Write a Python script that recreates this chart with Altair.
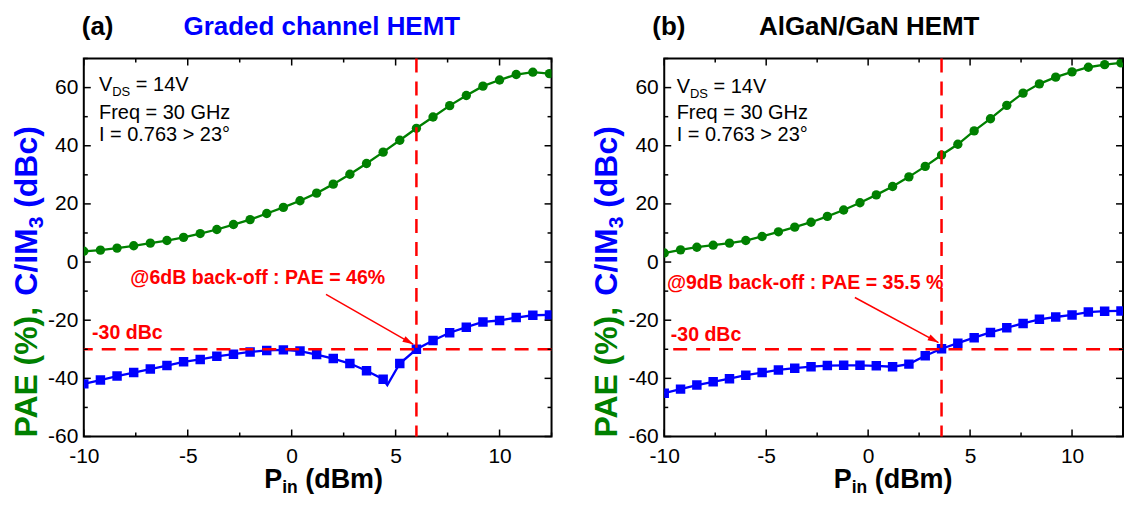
import math
import altair as alt
import pandas as pd

FONT = "Liberation Sans"
GREEN = "#008000"
BLUE = "#0000ff"
RED = "#ff0000"

W_A, W_B, H = 469, 460, 379
X_DOM = [-10, 12.5]
Y_DOM = [-60, 70]
X_TICKS = [-10, -5, 0, 5, 10]
X_MINOR = [-7.5, -2.5, 2.5, 7.5, 12.5]
Y_TICKS = [-60, -40, -20, 0, 20, 40, 60]
Y_MINOR = [-50, -30, -10, 10, 30, 50, 70]

# Input power (dBm)
pin = [-10.0, -9.2, -8.4, -7.6, -6.8, -6.0, -5.2, -4.4, -3.6, -2.8, -2.0, -1.2, -0.4, 0.4,
       1.2, 2.0, 2.8, 3.6, 4.4, 5.2, 6.0, 6.8, 7.6, 8.4, 9.2, 10.0, 10.8, 11.6, 12.4]

# (a) Graded channel HEMT
pae_a = [3.7, 4.1, 4.8, 5.6, 6.5, 7.4, 8.5, 9.8, 11.2, 12.9, 14.6, 16.7, 18.8, 21.1,
         23.7, 26.8, 30.2, 33.9, 37.8, 41.9, 46.0, 49.9, 53.8, 57.3, 60.5, 62.6, 64.5, 65.3, 64.8]
im3_a = [-41.9, -40.6, -39.2, -38.0, -36.8, -35.6, -34.3, -33.5, -32.4, -31.7, -30.9, -30.4,
         -30.2, -30.6, -31.8, -33.2, -34.9, -37.4, -40.3, -34.9, -30.0, -27.0, -24.3, -22.4,
         -20.6, -20.1, -19.1, -18.3, -18.2]
im3_a_dip_x = 4.6      # unmarked point of the line at the notch
im3_a_dip_y = -42.3

# (b) AlGaN/GaN HEMT
pae_b = [3.1, 4.2, 5.1, 5.8, 6.5, 7.4, 8.8, 10.4, 12.0, 13.7, 15.7, 17.9, 20.4, 23.1,
         26.0, 29.3, 32.9, 36.8, 40.5, 45.1, 49.3, 53.9, 58.1, 61.3, 63.6, 65.4, 67.0, 67.9, 68.5]
im3_b = [-45.1, -43.7, -42.3, -41.2, -40.1, -38.9, -38.0, -37.1, -36.5, -36.0, -35.6, -35.5,
         -35.5, -35.7, -36.0, -35.1, -32.2, -29.8, -27.9, -26.0, -24.2, -22.6, -21.1, -19.7,
         -18.9, -18.2, -17.2, -16.9, -16.8]

# annotations (data coordinates)
backoff_a = 6.0
backoff_b = 3.6
limit_dbc = -30
info_lines = ["Freq = 30 GHz", "I = 0.763 > 23°"]


def xenc(field="x"):
    return alt.X(f"{field}:Q",
                 scale=alt.Scale(domain=X_DOM, nice=False, zero=False),
                 axis=alt.Axis(values=X_TICKS, labelExpr="'' + datum.value", ticks=False,
                               tickSize=0, domain=False, grid=False, title=None,
                               labelFlush=False, labelPadding=9, labelFontSize=21,
                               labelFont=FONT, labelColor="black"))


def yenc(field="y"):
    return alt.Y(f"{field}:Q",
                 scale=alt.Scale(domain=Y_DOM, nice=False, zero=False),
                 axis=alt.Axis(values=Y_TICKS, labelExpr="'' + datum.value", ticks=False,
                               tickSize=0, domain=False, grid=False, title=None,
                               labelFlush=False, labelPadding=6, labelFontSize=21,
                               labelFont=FONT, labelColor="black"))


def dtext(x, y, s, size, color, weight="normal", dx=0, dy=0):
    df = pd.DataFrame({"x": [x], "y": [y], "t": [s]})
    return alt.Chart(df).mark_text(align="left", baseline="alphabetic", font=FONT,
                                   fontSize=size, fontWeight=weight, color=color,
                                   dx=dx, dy=dy).encode(x=xenc(), y=yenc(), text="t:N")


def ptext(px, py, s, size, color, weight="bold", angle=0):
    df = pd.DataFrame({"t": [s]})
    return alt.Chart(df).mark_text(align="left", baseline="alphabetic", font=FONT,
                                   fontSize=size, fontWeight=weight, color=color,
                                   angle=angle).encode(x=alt.value(px), y=alt.value(py),
                                                       text="t:N")


def panel(W, pae, im3_x, im3_y, im3_mark, backoff, ann, label, title, title_color,
          title_x, info_x, info_y, xt_start):
    sx = W / (X_DOM[1] - X_DOM[0])
    sy = H / (Y_DOM[1] - Y_DOM[0])
    layers = []
    dpae = pd.DataFrame({"x": pin, "y": pae})
    dim = pd.DataFrame({"x": im3_x, "y": im3_y, "m": im3_mark})
    layers.append(alt.Chart(dpae).mark_line(color=GREEN, strokeWidth=2.3, clip=True)
                  .encode(x=xenc(), y=yenc()))
    layers.append(alt.Chart(dpae).mark_circle(color=GREEN, size=88, opacity=1, clip=True)
                  .encode(x=xenc(), y=yenc()))
    layers.append(alt.Chart(dim).mark_line(color=BLUE, strokeWidth=2.3, clip=True)
                  .encode(x=xenc(), y=yenc()))
    layers.append(alt.Chart(dim).transform_filter("datum.m").mark_square(
        color=BLUE, size=90, opacity=1, clip=True).encode(x=xenc(), y=yenc()))
    # red dashed guides
    layers.append(alt.Chart(pd.DataFrame({"x": [backoff]})).mark_rule(
        color=RED, strokeWidth=2.5, strokeDash=[14, 9]).encode(x=xenc()))
    layers.append(alt.Chart(pd.DataFrame({"y": [limit_dbc]})).mark_rule(
        color=RED, strokeWidth=2.5, strokeDash=[14, 9]).encode(y=yenc()))
    # arrow
    (x0, y0), (x1, y1) = ann["arrow"]
    darr = pd.DataFrame({"x": [x0], "y": [y0], "x2": [x1], "y2": [y1]})
    layers.append(alt.Chart(darr).mark_rule(color=RED, strokeWidth=1.5).encode(
        x=xenc(), y=yenc(), x2="x2:Q", y2="y2:Q"))
    dxp = (x1 - x0) * sx
    dyp = -(y1 - y0) * sy
    ang = math.degrees(math.atan2(dxp, -dyp)) % 360
    layers.append(alt.Chart(pd.DataFrame({"x": [x1], "y": [y1]})).mark_point(
        shape="M0,0L-0.42,1.4L0.42,1.4Z", filled=True, size=240, color=RED, opacity=1,
        strokeWidth=0, angle=ang).encode(x=xenc(), y=yenc()))
    # annotation texts
    layers.append(dtext(ann["dbc"][0], ann["dbc"][1], "-30 dBc", 19.6, RED, "bold"))
    layers.append(dtext(ann["pae"][0], ann["pae"][1], ann["pae_text"], 19.6, RED, "bold"))
    # info block
    layers.append(dtext(info_x, info_y[0], "V", 20, "black"))
    layers.append(dtext(info_x, info_y[0], "DS", 13, "black", dx=13.3, dy=5))
    layers.append(dtext(info_x, info_y[0], "= 14V", 20, "black", dx=37))
    layers.append(dtext(info_x, info_y[1], info_lines[0], 20, "black"))
    layers.append(dtext(info_x, info_y[2], info_lines[1], 20, "black"))
    # ticks (inward, all four sides)
    for vals, ln in ((X_TICKS, 7), (X_MINOR, 4)):
        d = pd.DataFrame({"x": vals})
        layers.append(alt.Chart(d).mark_rule(color="black", strokeWidth=1.5).encode(
            x=xenc(), y=alt.value(H), y2=alt.value(H - ln)))
        layers.append(alt.Chart(d).mark_rule(color="black", strokeWidth=1.5).encode(
            x=xenc(), y=alt.value(0), y2=alt.value(ln)))
    for vals, ln in ((Y_TICKS, 7), (Y_MINOR, 4)):
        d = pd.DataFrame({"y": vals})
        layers.append(alt.Chart(d).mark_rule(color="black", strokeWidth=1.5).encode(
            y=yenc(), x=alt.value(0), x2=alt.value(ln)))
        layers.append(alt.Chart(d).mark_rule(color="black", strokeWidth=1.5).encode(
            y=yenc(), x=alt.value(W), x2=alt.value(W - ln)))
    # panel title
    layers.append(ptext(title_x[0], -24, label, 26, "black"))
    layers.append(ptext(title_x[1], -24, title, 26, title_color))
    # y title (rotated, two colours)
    fs = 32
    layers.append(ptext(-47, 380, "PAE (%),", fs, GREEN, angle=270))
    yb = 380 - 4.445 * fs
    layers.append(ptext(-47, yb, "C/IM", fs, BLUE, angle=270))
    y3 = yb - 2.111 * fs
    layers.append(ptext(-41, y3, "3", 21, BLUE, angle=270))
    y4 = y3 - 0.556 * 21 - 0.278 * fs
    layers.append(ptext(-47, y4, "(dBc)", fs, BLUE, angle=270))
    # x title
    fx, fsub = 27, 17.5
    layers.append(ptext(xt_start, 431, "P", fx, "black"))
    layers.append(ptext(xt_start + 0.667 * fx, 436, "in", fsub, "black"))
    layers.append(ptext(xt_start + 0.667 * fx + 0.889 * fsub + 0.278 * fx, 431, "(dBm)",
                        fx, "black"))
    return alt.layer(*layers).properties(width=W, height=H)


ann_a = {"arrow": ((1.65, -11.1), (5.85, -28.3)), "dbc": (-9.6, -26.5),
         "pae": (-7.76, -7.65), "pae_text": "@6dB back-off : PAE = 46%"}
ann_b = {"arrow": ((-0.65, -12.2), (3.45, -27.7)), "dbc": (-9.68, -27.1),
         "pae": (-9.87, -9.4), "pae_text": "@9dB back-off : PAE = 35.5 %"}

im3_a_x = pin[:19] + [im3_a_dip_x] + pin[19:]
im3_a_y = im3_a[:19] + [im3_a_dip_y] + im3_a[19:]
im3_a_m = [True] * 19 + [False] + [True] * 10

pa = panel(W_A, pae_a, im3_a_x, im3_a_y, im3_a_m, backoff_a, ann_a, "(a)",
           "Graded channel HEMT", BLUE, (-2, 100), -9.27, (58.7, 49.3, 41.5), 181)
pb = panel(W_B, pae_b, pin, im3_b, [True] * len(pin), backoff_b, ann_b, "(b)",
           "AlGaN/GaN HEMT", "black", (-12, 95), -9.39, (58.1, 49.3, 41.5), 170)

chart = alt.hconcat(pa, pb, spacing=36).properties(
    padding={"left": 2, "top": 4, "right": 0, "bottom": 0}
).configure_view(stroke="black", strokeWidth=2)

chart.save("out.html", embed_options={"renderer": "svg", "actions": False})
